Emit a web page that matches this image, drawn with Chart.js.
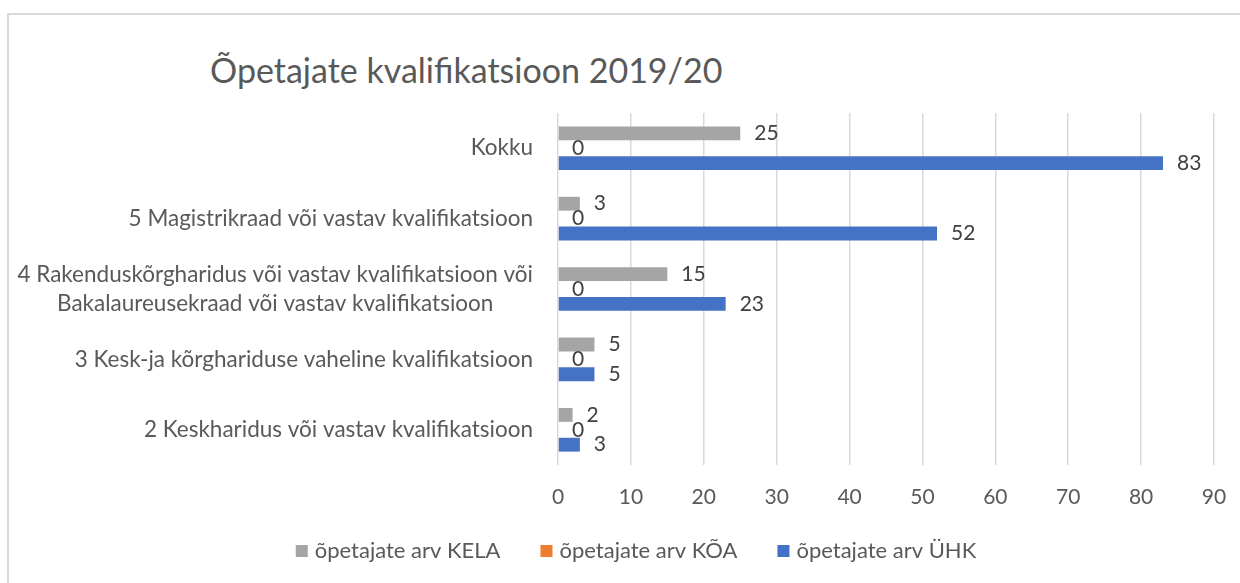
<!DOCTYPE html>
<html>
<head>
<meta charset="utf-8">
<script src="https://cdn.jsdelivr.net/npm/chart.js@4.4.1/dist/chart.umd.min.js"></script>
<style>
    html, body { margin: 0; padding: 0; background: #fff; overflow: hidden; }
    #wrap { position: relative; width: 1240px; height: 583px; }
    #frame { position: absolute; left: 7px; top: 13px; width: 1300px; height: 640px; border: 2px solid #d9d9d9; box-sizing: border-box; }
    #title { position: absolute; left: 210px; top: 49px; margin: 0; font: 34px Lato, sans-serif; color: #595959; font-weight: normal; white-space: nowrap; }
    canvas { position: absolute; left: 0; top: 0; }
</style>
</head>
<body>
<div id="wrap">
    <div id="frame"></div>
    <h1 id="title">Õpetajate kvalifikatsioon 2019/20</h1>
    <canvas id="qualChart" width="1240" height="583"></canvas>
</div>
<script>
// Categories, top to bottom
const categories = [
    'Kokku',
    '5 Magistrikraad või vastav kvalifikatsioon',
    ['4 Rakenduskõrgharidus või vastav kvalifikatsioon või', 'Bakalaureusekraad või vastav kvalifikatsioon'],
    '3 Kesk-ja kõrghariduse vaheline kvalifikatsioon',
    '2 Keskharidus või vastav kvalifikatsioon'
];

const seriesNames = ['õpetajate arv KELA', 'õpetajate arv KÕA', 'õpetajate arv ÜHK'];
const seriesColors = ['#A5A5A5', '#ED7D31', '#4472C4'];
const kelaValues = [25, 3, 15, 5, 2];
const koaValues = [0, 0, 0, 0, 0];
const uhkValues = [83, 52, 23, 5, 3];

const xTicks = [0, 10, 20, 30, 40, 50, 60, 70, 80, 90];

const fontFamily = 'Lato, sans-serif';

// value labels at the end of each bar
const valueLabels = {
    id: 'valueLabels',
    afterDatasetsDraw(chart) {
        const ctx = chart.ctx;
        ctx.save();
        ctx.font = '21px ' + fontFamily;
        ctx.fillStyle = '#404040';
        ctx.textAlign = 'left';
        ctx.textBaseline = 'middle';
        chart.data.datasets.forEach((ds, i) => {
            const meta = chart.getDatasetMeta(i);
            meta.data.forEach((bar, j) => {
                ctx.fillText(String(ds.data[j]), bar.x + 14, bar.y);
            });
        });
        ctx.restore();
    }
};

// category labels: block right-aligned to the axis, lines centred within the block
const categoryLabels = {
    id: 'categoryLabels',
    afterDraw(chart) {
        const ctx = chart.ctx;
        const yScale = chart.scales.y;
        const right = chart.chartArea.left - 25;
        const lineHeight = 29;
        ctx.save();
        ctx.font = '22.5px ' + fontFamily;
        ctx.fillStyle = '#595959';
        ctx.textAlign = 'center';
        ctx.textBaseline = 'middle';
        chart.data.labels.forEach((label, i) => {
            const lines = Array.isArray(label) ? label : [label];
            const blockW = Math.max(...lines.map(l => ctx.measureText(l).width));
            const cx = right - blockW / 2;
            const cy = yScale.getPixelForTick(i);
            lines.forEach((line, k) => {
                ctx.fillText(line, cx, cy + (k - (lines.length - 1) / 2) * lineHeight);
            });
        });
        ctx.restore();
    }
};

// legend row below the axis, with wide spacing between entries
const bottomLegend = {
    id: 'bottomLegend',
    afterDraw(chart) {
        const ctx = chart.ctx;
        const box = 12, textGap = 7, itemGap = 40;
        ctx.save();
        ctx.font = '22px ' + fontFamily;
        ctx.textBaseline = 'middle';
        ctx.textAlign = 'left';
        const items = chart.data.datasets.map(ds => ({
            text: ds.label, color: ds.backgroundColor, w: box + textGap + ctx.measureText(ds.label).width
        }));
        const total = items.reduce((s, it) => s + it.w, 0) + itemGap * (items.length - 1);
        const cy = 551;
        let x = 636 - total / 2;
        items.forEach(it => {
            ctx.fillStyle = it.color;
            ctx.fillRect(x, cy - box / 2, box, box);
            ctx.fillStyle = '#595959';
            ctx.fillText(it.text, x + box + textGap, cy);
            x += it.w + itemGap;
        });
        ctx.restore();
    }
};

new Chart(document.getElementById('qualChart'), {
    type: 'bar',
    data: {
        labels: categories,
        datasets: [
            { label: seriesNames[0], data: kelaValues, backgroundColor: seriesColors[0] },
            { label: seriesNames[1], data: koaValues, backgroundColor: seriesColors[1] },
            { label: seriesNames[2], data: uhkValues, backgroundColor: seriesColors[2] }
        ]
    },
    options: {
        indexAxis: 'y',
        responsive: false,
        animation: false,
        categoryPercentage: 0.634,
        barPercentage: 0.93,
        layout: { padding: { top: 113, right: 26, bottom: 68, left: 26 } },
        scales: {
            x: {
                min: 0,
                max: 90,
                afterBuildTicks(scale) {
                    scale.ticks = xTicks.map(v => ({ value: v }));
                },
                afterFit(scale) {
                    scale.height = 50;
                    scale.paddingLeft = 0;
                    scale.paddingRight = 0;
                },
                grid: { color: '#d9d9d9', lineWidth: 1.5, drawTicks: false },
                border: { display: false },
                ticks: { color: '#595959', font: { family: fontFamily, size: 21 }, padding: 20 }
            },
            y: {
                afterFit(scale) { scale.width = 532; },
                grid: { display: false },
                border: { display: false },
                ticks: { display: false }
            }
        },
        plugins: {
            legend: { display: false },
            tooltip: { enabled: false }
        }
    },
    plugins: [valueLabels, categoryLabels, bottomLegend]
});
</script>
</body>
</html>
